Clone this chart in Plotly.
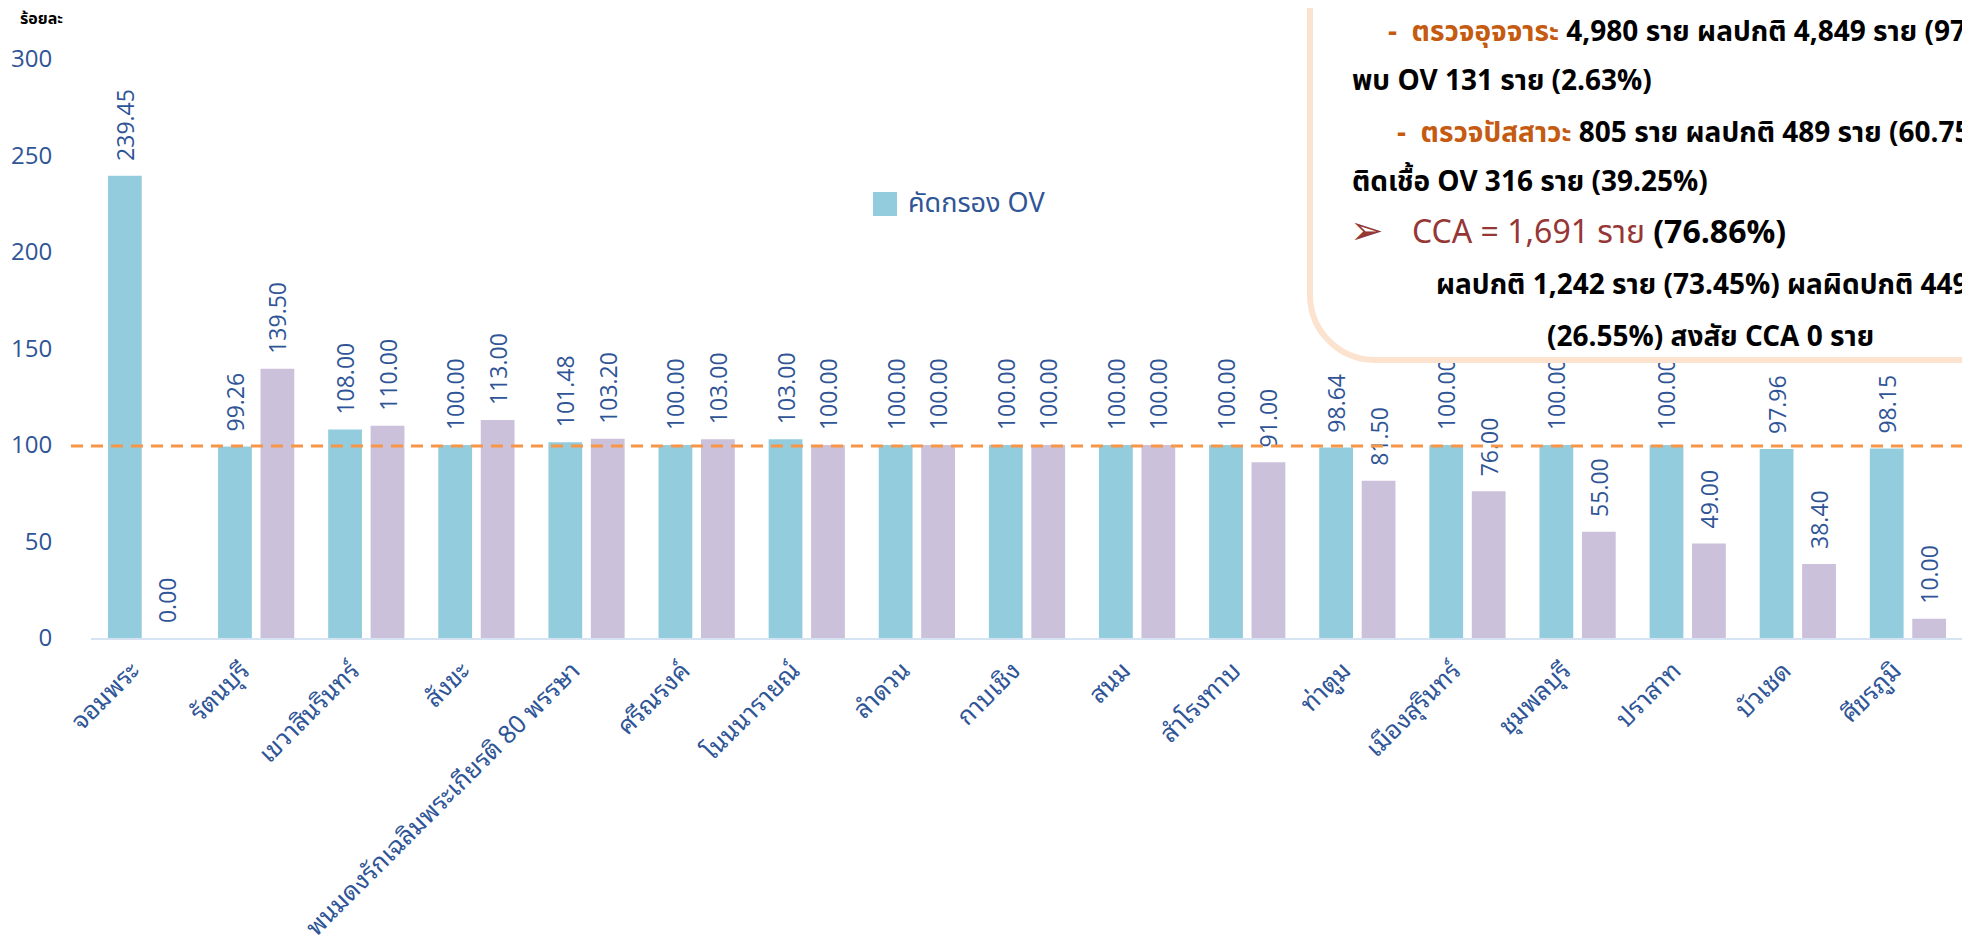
import plotly.graph_objects as go

# ---------------- data ----------------
districts = [
    "จอมพระ", "รัตนบุรี", "เขวาสินรินทร์", "สังขะ",
    "พนมดงรักเฉลิมพระเกียรติ 80 พรรษา", "ศรีณรงค์", "โนนนารายณ์",
    "ลำดวน", "กาบเชิง", "สนม", "สำโรงทาบ", "ท่าตูม", "เมืองสุรินทร์",
    "ชุมพลบุรี", "ปราสาท", "บัวเชด", "ศีขรภูมิ",
]
screen_ov = [239.45, 99.26, 108.00, 100.00, 101.48, 100.00, 103.00,
             100.00, 100.00, 100.00, 100.00, 98.64, 100.00, 100.00,
             100.00, 97.96, 98.15]
screen_cca = [0.00, 139.50, 110.00, 113.00, 103.20, 103.00, 100.00,
              100.00, 100.00, 100.00, 91.00, 81.50, 76.00, 55.00,
              49.00, 38.40, 10.00]
y_ticks = [0, 50, 100, 150, 200, 250, 300]
target_line = 99.5
legend_label = "คัดกรอง OV"
y_title = "ร้อยละ"

# ---------------- layout geometry ----------------
W, H = 1970, 941
L, R, T, B = 83, 1955, 51, 630
DX, DY = -7, -8   # global offset for free-floating items


def px(x):
    return (x + DX - L) / (R - L)


def py(y):
    return (B - (y + DY)) / (B - T)


THAI = "Noto Sans Thai, Noto Sans, sans-serif"
THAI_LOOP = "Noto Sans Thai Looped, Loma, Garuda, Noto Serif Thai, Noto Sans Thai, sans-serif"
NUM = "Open Sans, Noto Sans, sans-serif"
BLUE_TXT = "#2F5597"

fig = go.Figure()
for vals, color in ((screen_ov, "#93CDDD"), (screen_cca, "#CCC1DA")):
    fig.add_trace(go.Bar(
        x=districts, y=vals,
        marker=dict(color=color, line=dict(width=0)),
        texttemplate="\u00a0\u00a0%{y:.2f}", textposition="outside",
        textangle=-90, cliponaxis=False, constraintext="none",
        textfont=dict(family=NUM, size=23, color=BLUE_TXT),
        showlegend=False,
    ))

shapes = []
# target dashed line
shapes.append(dict(type="line", xref="paper", yref="y",
                   x0=px(70), x1=px(1985), y0=target_line, y1=target_line,
                   line=dict(color="#F79646", width=3, dash="12px,8px"),
                   layer="above"))
# manual legend square
shapes.append(dict(type="rect", xref="paper", yref="paper",
                   x0=px(872), x1=px(896), y0=py(216), y1=py(192),
                   fillcolor="#93CDDD", line=dict(width=0)))

# rounded info box (top-right)
x0, yb, r, k = 1309, 360, 65, 0.5523
path = (
    f"M {px(x0)},{py(-30)} "
    f"L {px(x0)},{py(yb - r)} "
    f"C {px(x0)},{py(yb - r + k * r)} {px(x0 + r - k * r)},{py(yb)} {px(x0 + r)},{py(yb)} "
    f"L {px(2020)},{py(yb)} L {px(2020)},{py(-30)} Z"
)
shapes.append(dict(type="path", xref="paper", yref="paper", path=path,
                   fillcolor="white", line=dict(color="#FBE3D0", width=6),
                   layer="above"))

ann = []
ann.append(dict(text=f"<b>{y_title}</b>", xref="paper", yref="paper",
                x=px(17), y=py(19), xanchor="left", yanchor="middle",
                showarrow=False, font=dict(family=THAI, size=16, color="black")))
ann.append(dict(text=legend_label, xref="paper", yref="paper",
                x=px(905), y=py(203), xanchor="left", yanchor="middle",
                showarrow=False, font=dict(family=THAI, size=27, color=BLUE_TXT)))

BROWN = "#C55A11"
MAROON = "#953735"
box_lines = [
    (1385, 33, f"<b><span style='color:{BROWN}'>-\u00a0\u00a0ตรวจอุจจาระ</span> 4,980 ราย ผลปกติ 4,849 ราย (97.37%)</b>", 28),
    (1349, 82, "<b>พบ OV 131 ราย (2.63%)</b>", 28),
    (1394, 133, f"<b><span style='color:{BROWN}'>-\u00a0\u00a0ตรวจปัสสาวะ</span> 805 ราย ผลปกติ 489 ราย (60.75%)</b>", 28),
    (1349, 182, "<b>ติดเชื้อ OV 316 ราย (39.25%)</b>", 28),
    (1409, 233, f"<span style='color:{MAROON}'>CCA = 1,691 ราย</span> <b>(76.86%)</b>", 32),
    (1433, 285, "<b>ผลปกติ 1,242 ราย (73.45%) ผลผิดปกติ 449 ราย</b>", 28),
    (1544, 337, "<b>(26.55%) สงสัย CCA 0 ราย</b>", 28),
]
for bx, by, txt, fs in box_lines:
    ann.append(dict(text=txt, xref="paper", yref="paper", x=px(bx), y=py(by),
                    xanchor="left", yanchor="middle", showarrow=False,
                    font=dict(family=THAI, size=fs, color="black")))
ann.append(dict(text="➢", xref="paper", yref="paper", x=px(1347), y=py(230),
                xanchor="left", yanchor="middle", showarrow=False,
                font=dict(family="DejaVu Sans", size=40, color=MAROON)))

fig.update_layout(
    width=W, height=H,
    margin=dict(l=L, r=W - R, t=T, b=H - B, autoexpand=False),
    paper_bgcolor="white", plot_bgcolor="white",
    barmode="group", bargap=0.229, bargroupgap=0.204,
    shapes=shapes, annotations=ann, showlegend=False,
)
fig.update_xaxes(
    type="category", range=[-0.5, len(districts) - 0.5],
    showline=True, linecolor="#D6E3F3", linewidth=2,
    showgrid=False, zeroline=False,
    ticks="", ticklabelstandoff=6, ticklabelshift=-14,
    tickangle=-45, tickfont=dict(family=THAI_LOOP, size=25, color=BLUE_TXT),
)
fig.update_yaxes(
    range=[0, 300], tickvals=y_ticks, showgrid=False, zeroline=False,
    showline=False, ticks="outside", ticklen=33, tickcolor="rgba(0,0,0,0)",
    tickfont=dict(family=NUM, size=24, color=BLUE_TXT),
)

fig.write_html("out.html")
